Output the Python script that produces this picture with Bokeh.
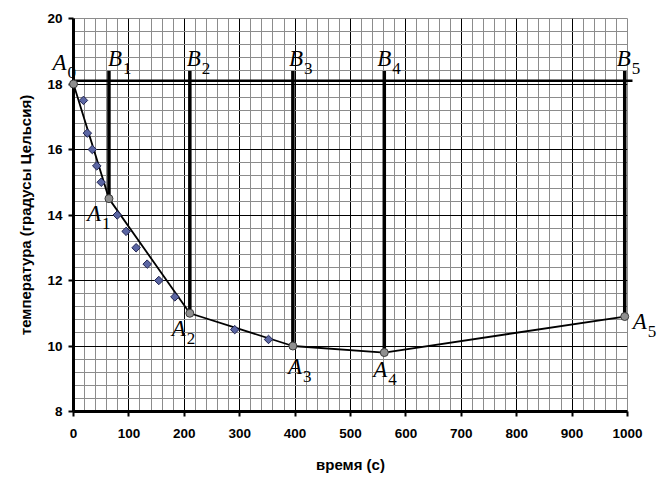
import math
from bokeh.plotting import figure
from bokeh.models import SingleIntervalTicker, ColumnDataSource
from bokeh.core.properties import value
from bokeh.embed import file_html
from bokeh.resources import INLINE

# ---- data ----
a_time = [0, 64, 210, 396, 561, 995]
a_temp = [18.0, 14.5, 11.0, 10.0, 9.8, 10.9]
a_index = ["0", "1", "2", "3", "4", "5"]
b_index = ["1", "2", "3", "4", "5"]
b_top = 18.4
ref_level = 18.1
ref_start = 0
ref_end = 1009
meas_time = [18, 25, 34, 42, 50, 79, 95, 113, 133, 154, 183, 291, 352]
meas_temp = [17.5, 16.5, 16.0, 15.5, 15.0, 14.0, 13.5, 13.0, 12.5, 12.0, 11.5, 10.5, 10.2]
x_label = "время (с)"
y_label = "температура (градусы Цельсия)"

# label placement (screen px, relative to the point; dy positive = downward)
a_dx = [-21, -22, -18, -5, -11, 8]
a_dy = [-13, 24, 24, 29, 26, 14]
b_dx = [-1, -3, -4, -7, -8]
b_dy = [-3, -3, -3, -3, -3]
main_shift = -9
sub_dx = 15
sub_shift = 1

p = figure(width=671, height=484, x_range=(0, 1000), y_range=(8, 20),
           output_backend="svg", toolbar_location=None,
           min_border_left=73, min_border_right=44, min_border_top=18,
           min_border_bottom=73)
p.background_fill_color = "white"
p.border_fill_color = "white"
p.outline_line_color = "#8c8c8c"

xt = SingleIntervalTicker(interval=100, num_minor_ticks=5)
yt = SingleIntervalTicker(interval=2, num_minor_ticks=5)
p.xaxis.ticker = xt
p.yaxis.ticker = yt
p.xgrid.ticker = xt
p.ygrid.ticker = yt

for g in (p.xgrid, p.ygrid):
    g.grid_line_color = "black"
    g.grid_line_width = 1
    g.minor_grid_line_color = "#8c8c8c"
    g.minor_grid_line_width = 1

for ax in (p.xaxis, p.yaxis):
    ax.axis_line_width = 3
    ax.axis_line_color = "black"
    ax.major_tick_out = 5
    ax.major_tick_in = 0
    ax.major_tick_line_width = 2
    ax.minor_tick_out = 0
    ax.minor_tick_in = 0
    ax.major_label_text_font = "Liberation Sans"
    ax.major_label_text_font_style = "bold"
    ax.major_label_text_font_size = "13.5px"
    ax.major_label_text_color = "black"
    ax.axis_label_text_font = "Liberation Sans"
    ax.axis_label_text_font_style = "bold"
    ax.axis_label_text_font_size = "15px"
    ax.axis_label_text_color = "black"

p.xaxis.axis_label = x_label
p.yaxis.axis_label = y_label
p.xaxis.major_label_standoff = 12
p.xaxis.axis_label_standoff = 15
p.yaxis.major_label_standoff = 6
p.yaxis.axis_label_standoff = 10

# horizontal reference line
p.segment(x0=[ref_start], y0=[ref_level], x1=[ref_end], y1=[ref_level],
          line_color="black", line_width=2.5, level="overlay")

# vertical B lines
p.segment(x0=a_time[1:], y0=a_temp[1:], x1=a_time[1:], y1=[b_top] * len(b_index),
          line_color="black", line_width=3.5, level="overlay")

# main broken line
p.line(a_time, a_temp, line_color="black", line_width=1.8, level="overlay")

# measured points
p.scatter(meas_time, meas_temp, marker="square", angle=math.pi / 4, size=6,
          fill_color="#5b66a3", line_color="#1d2150", line_width=1, level="overlay")

# A points
p.scatter(a_time, a_temp, marker="circle", size=8, fill_color="#8f8f8f",
          line_color="#3a3a3a", line_width=1, level="overlay")

main_font = "23px"
sub_font = "17px"

def add_labels(xs, ys, letter, subs, dxs, dys):
    src = ColumnDataSource(dict(
        x=xs, y=ys, t=[letter] * len(xs), s=subs,
        dx=dxs, dy=[d + main_shift for d in dys],
        sdx=[d + sub_dx for d in dxs], sdy=[d + sub_shift for d in dys]))
    p.text(x="x", y="y", text="t", x_offset="dx", y_offset="dy", source=src,
           text_font=value("Liberation Serif"), text_font_style="italic",
           text_font_size=main_font, text_color="black", text_align="left",
           text_baseline="alphabetic", level="overlay")
    p.text(x="x", y="y", text="s", x_offset="sdx", y_offset="sdy", source=src,
           text_font=value("Liberation Serif"),
           text_font_size=sub_font, text_color="black", text_align="left",
           text_baseline="alphabetic", level="overlay")

add_labels(a_time, a_temp, "A", a_index, a_dx, a_dy)
add_labels(a_time[1:], [b_top] * len(b_index), "B", b_index, b_dx, b_dy)

open("out.html", "w").write(file_html(p, INLINE))
